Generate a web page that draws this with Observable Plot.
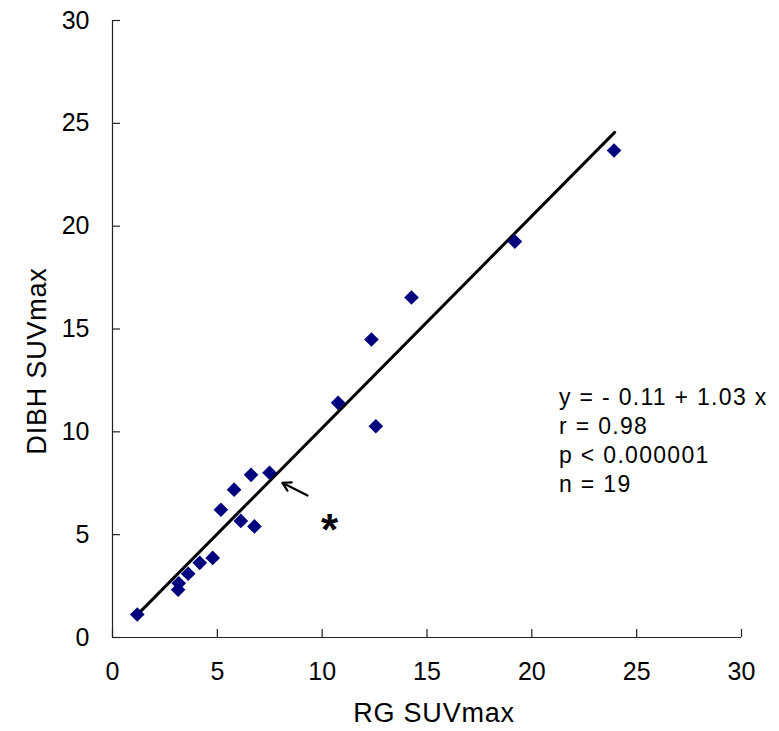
<!DOCTYPE html>
<html><head><meta charset="utf-8">
<script src="https://cdn.jsdelivr.net/npm/d3@7"></script>
<script src="https://cdn.jsdelivr.net/npm/@observablehq/plot@0.6"></script>
<style>
body{margin:0;background:#fff}
#chart svg{background:#fff}
</style>
</head><body><div id="chart"></div>
<script>
// ---- data ----
const rgSUV   = [1.18, 3.13, 3.16, 3.61, 4.16, 4.78, 5.17, 5.80, 6.12, 6.61, 6.77, 7.49, 10.76, 12.35, 12.56, 14.26, 19.19, 23.92];
const dibhSUV = [1.12, 2.32, 2.64, 3.10, 3.63, 3.87, 6.21, 7.19, 5.67, 7.91, 5.40, 8.01, 11.41, 14.49, 10.27, 16.53, 19.25, 23.68];
const xTicks = [0, 5, 10, 15, 20, 25, 30];
const yTicks = [0, 5, 10, 15, 20, 25, 30];
const fitIntercept = -0.11;
const fitSlope = 1.03;
const fitXRange = [1.2, 23.95];
const statsLines = ["y = - 0.11 + 1.03 x", "r = 0.98", "p < 0.000001", "n = 19"];
const statsAnchor = {x: 21.3, y: 12.3};
const arrowFromTo = {x1: 9.3, y1: 6.9, x2: 8.1, y2: 7.52};
const asteriskAt = {x: 10.35, y: 5.66};
const xTitle = "RG SUVmax";
const yTitle = "DIBH SUVmax";

// ---- layout ----
const W = 779, H = 731, mL = 112, mR = 38, mT = 20, mB = 94;
const frameH = H - mT - mB, frameW = W - mL - mR;
const tickLen = 8;
const sans = "'Liberation Sans', Arial, sans-serif";

const points = rgSUV.map((x, i) => ({x, y: dibhSUV[i]}));
const fit = fitXRange.map(x => ({x, y: fitIntercept + fitSlope * x}));

const chart = Plot.plot({
  width: W, height: H,
  marginLeft: mL, marginRight: mR, marginTop: mT, marginBottom: mB,
  style: {fontFamily: sans, fontSize: "20px", color: "#000", background: "#fff"},
  x: {domain: [0, 30]},
  y: {domain: [0, 30]},
  marks: [
    // axis lines
    Plot.ruleX([0], {stroke: "#222", strokeWidth: 1.2}),
    Plot.ruleY([0], {stroke: "#222", strokeWidth: 1.2}),
    // inward tick marks
    Plot.tickX(xTicks, {x: d => d, insetTop: frameH - tickLen, stroke: "#222", strokeWidth: 1.2}),
    Plot.tickY(yTicks, {y: d => d, insetRight: frameW - tickLen, stroke: "#222", strokeWidth: 1.2}),
    // tick labels
    Plot.axisX({ticks: xTicks, tickSize: 0, tickPadding: 25, fontSize: 25, fontFamily: sans, label: null}),
    Plot.axisY({ticks: yTicks, tickSize: 0, tickPadding: 23, fontSize: 25, fontFamily: sans, label: null}),
    // axis titles
    Plot.text([xTitle], {frameAnchor: "bottom", dx: 7, dy: 76, fontSize: 27, fontFamily: sans, textAnchor: "middle", lineAnchor: "middle", fill: "#000"}),
    Plot.text([yTitle], {frameAnchor: "left", dx: -75, dy: 32, rotate: -90, fontSize: 27, fontFamily: sans, textAnchor: "middle", lineAnchor: "middle", fill: "#000"}),
    // regression line
    Plot.line(fit, {x: "x", y: "y", stroke: "#000", strokeWidth: 3}),
    // points
    Plot.dot(points, {x: "x", y: "y", symbol: "diamond2", r: 6.6, fill: "#00007f", stroke: "none"}),
    // arrow & asterisk
    Plot.arrow([arrowFromTo], {x1: "x1", y1: "y1", x2: "x2", y2: "y2", stroke: "#000", strokeWidth: 2.2, headLength: 21}),
    Plot.text([asteriskAt], {x: "x", y: "y", text: () => "*", fontSize: 44, fontWeight: "bold", fill: "#000", lineAnchor: "middle", dy: 10}),
    // statistics block
    Plot.text([statsAnchor], {x: "x", y: "y", text: () => statsLines.join("\n"), textAnchor: "start", lineAnchor: "top", lineHeight: 1.26, fontSize: 23, fontFamily: sans, fill: "#000"})
  ]
});
const sel = d3.select(chart);
sel.selectAll("text").filter(function() { return this.textContent.startsWith(statsLines[0]); })
  .style("letter-spacing", "1.3px");
sel.selectAll("text").filter(function() { return this.textContent === xTitle || this.textContent === yTitle; })
  .style("letter-spacing", "0.8px");
document.getElementById("chart").append(chart);
</script>
</body></html>
